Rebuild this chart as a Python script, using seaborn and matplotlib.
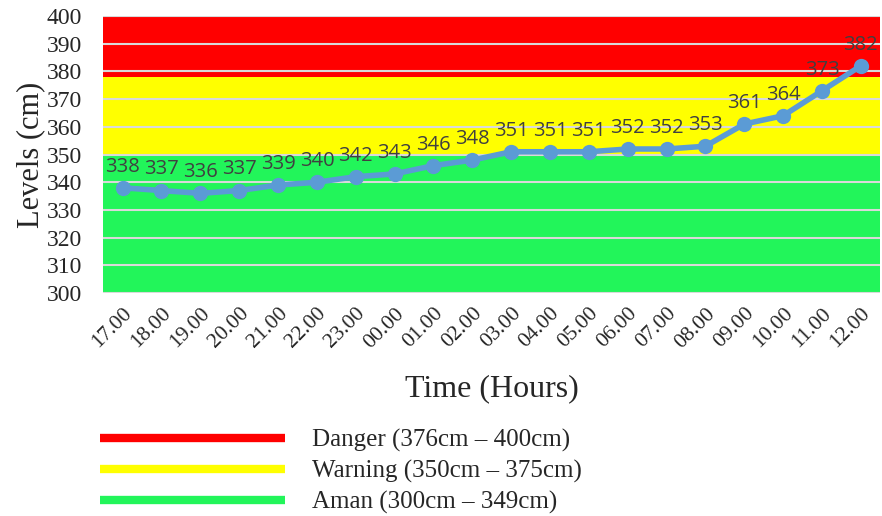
import matplotlib
matplotlib.use("Agg")
import matplotlib.pyplot as plt
from matplotlib.lines import Line2D
import seaborn as sns

sns.set_style("white")

# water level readings per hour
hours = ["17.00", "18.00", "19.00", "20.00", "21.00", "22.00", "23.00", "00.00",
         "01.00", "02.00", "03.00", "04.00", "05.00", "06.00", "07.00", "08.00",
         "09.00", "10.00", "11.00", "12.00"]
levels = [338, 337, 336, 337, 339, 340, 342, 343, 346, 348, 351, 351, 351,
          352, 352, 353, 361, 364, 373, 382]

# status bands (lower, upper, colour, legend text)
band_low = [378, 350, 300]
band_high = [400, 378, 350]
band_colors = ["#ff0000", "#ffff00", "#22f55a"]
band_labels = ["Danger (376cm \u2013 400cm)", "Warning (350cm \u2013 375cm)",
               "Aman (300cm \u2013 349cm)"]

serif = "Liberation Serif"

fig = plt.figure(figsize=(8.82, 5.16), dpi=100)
ax = fig.add_axes([0.117, 0.432, 0.881, 0.537])

for lo, hi, c in zip(band_low, band_high, band_colors):
    ax.axhspan(lo, hi, color=c, zorder=0.1, lw=0)

sns.lineplot(x=hours, y=levels, sort=False, ax=ax, color="#5b9bd5",
             linewidth=4, marker="o", markersize=11, markeredgewidth=0, zorder=3)

for i, v in enumerate(levels):
    ax.annotate(str(v), (i, v), xytext=(0, 8), textcoords="offset points",
                ha="center", va="bottom", fontsize=14.5, color="#404040",
                family="Open Sans", zorder=4)

ax.set_ylim(300, 400)
ax.set_xlim(-0.5, len(hours) - 0.5)
ax.set_yticks(range(300, 401, 10))
ax.set_axisbelow(True)
ax.yaxis.grid(True, color="#d9d9d9", lw=1.5)
ax.xaxis.grid(False)
for s in ax.spines.values():
    s.set_visible(False)
ax.tick_params(axis="y", length=0, pad=15)
ax.tick_params(axis="x", length=0, pad=8)
ax.set_xticks(range(len(hours)))
ax.set_xticklabels(hours, rotation=45, ha="right", rotation_mode="anchor",
                   family=serif, fontsize=15.5)
for t in ax.get_yticklabels():
    t.set_family(serif)
    t.set_fontsize(17)
ax.set_ylabel("Levels (cm)", family=serif, fontsize=22, labelpad=1)
ax.set_xlabel("Time (Hours)", family=serif, fontsize=23, labelpad=16)

handles = [Line2D([0], [0], color=c, lw=6, solid_capstyle="butt") for c in band_colors]
fig.legend(handles, band_labels, loc="upper left", bbox_to_anchor=(0.113, 0.169),
           frameon=False, handlelength=7.4, handletextpad=1.1, labelspacing=0.32,
           prop={"family": serif, "size": 18}, borderaxespad=0, borderpad=0)

fig.savefig("out.png", dpi=100)
